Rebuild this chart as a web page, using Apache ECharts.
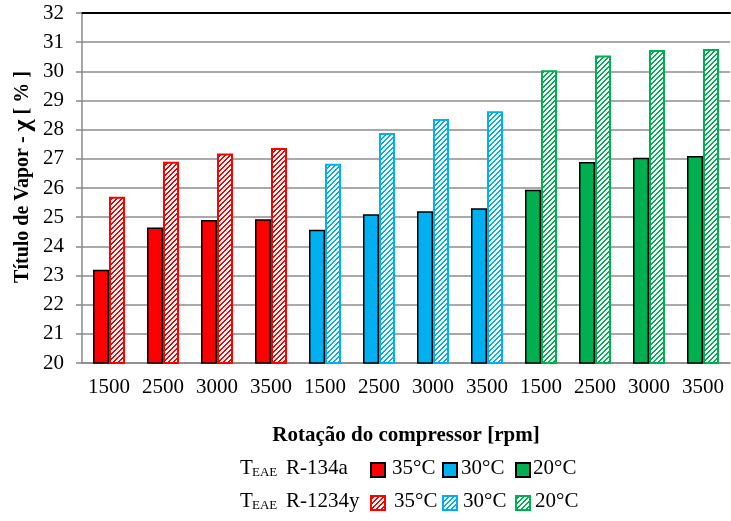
<!DOCTYPE html>
<html>
<head>
<meta charset="utf-8">
<script src="https://cdn.jsdelivr.net/npm/echarts@6/dist/echarts.min.js"></script>
<style>
html,body{margin:0;padding:0;background:#fff;}
#chart{width:731px;height:521px;}
</style>
</head>
<body>
<div id="chart"></div>
<script>
// ---- data ----
var categories = ['1500','2500','3000','3500','1500','2500','3000','3500','1500','2500','3000','3500'];
var r134a   = [23.2, 24.65, 24.9, 24.93, 24.57, 25.1, 25.2, 25.31, 25.94, 26.89, 27.04, 27.1];
var r1234yf = [25.7, 26.9, 27.18, 27.37, 26.83, 27.89, 28.37, 28.63, 30.04, 30.54, 30.73, 30.77];
var tempGroups = ['35°C','30°C','20°C'];
var groupColors = ['#FF0000','#00B0F0','#00B050'];
var groupOfCategory = [0,0,0,0,1,1,1,1,2,2,2,2];
var yTicks = {min: 20, max: 32, interval: 1};
var xTitle = 'Rotação do compressor [rpm]';
var yTitleParts = ['Título de Vapor - ', 'χ', ' [ % ]'];

var FONT = '"Liberation Serif", "Times New Roman", serif';

function hatch(color){
  var s = 5, c = document.createElement('canvas');
  c.width = s; c.height = s;
  var ctx = c.getContext('2d');
  ctx.fillStyle = '#fff'; ctx.fillRect(0,0,s,s);
  ctx.fillStyle = color;
  for (var i = 0; i < s; i++) {
    for (var w = 0; w < 2; w++) {
      ctx.fillRect((s - 1 - i + w) % s, i, 1, 1);
    }
  }
  return {image: c, repeat: 'repeat'};
}

var solidData = r134a.map(function(v, i){
  return {value: v, itemStyle: {color: groupColors[groupOfCategory[i]], borderColor: '#000', borderWidth: 1.5}};
});
var hatchData = r1234yf.map(function(v, i){
  var col = groupColors[groupOfCategory[i]];
  return {value: v, itemStyle: {color: hatch(col), borderColor: col, borderWidth: 2}};
});

// legend + y title graphics
var legendX = [370, 442, 515];
var legendTextX = [392, 461, 533];
var rowY = [470, 503];
var graphics = [];
graphics.push({type:'text', x: 23, y: 177, rotation: Math.PI/2,
  style:{
    text: '{a|' + yTitleParts[0] + '}{b|' + yTitleParts[1] + '}{a|' + yTitleParts[2] + '}',
    align:'center', verticalAlign:'middle',
    rich: {
      a: {font:'bold 20px ' + FONT, fill:'#000', verticalAlign:'middle'},
      b: {font:'bold 26px ' + FONT, fill:'#000', verticalAlign:'middle'}
    }
  }});
['R-134a','R-1234y'].forEach(function(name, r){
  graphics.push({type:'text', left: 240, top: rowY[r]-12, style:{text:'T', font:'21px ' + FONT, fill:'#000'}});
  graphics.push({type:'text', left: 252, top: rowY[r]-4, style:{text:'EAE', font:'13px ' + FONT, fill:'#000'}});
  graphics.push({type:'text', left: 286, top: rowY[r]-12, style:{text:name, font:'21px ' + FONT, fill:'#000'}});
  tempGroups.forEach(function(t, g){
    var col = groupColors[g];
    graphics.push({type:'rect', shape:{x: legendX[g]+1, y: rowY[r]-7, width: 14, height: 14},
      style: r === 0 ? {fill: col, stroke:'#000', lineWidth: 2} : {fill: hatch(col), stroke: col, lineWidth: 2}});
    graphics.push({type:'text', left: legendTextX[g] + (r===1?2:0), top: rowY[r]-12, style:{text:t, font:'21px ' + FONT, fill:'#000'}});
  });
});

var chart = echarts.init(document.getElementById('chart'), null, {renderer:'canvas'});
chart.setOption({
  animation: false,
  backgroundColor: '#fff',
  grid: {left: 82, right: 1, top: 13, bottom: 158},
  xAxis: [{
    type: 'category',
    data: categories,
    axisLine: {lineStyle: {color: '#888', width: 1.5}},
    axisTick: {show: false},
    axisLabel: {color: '#000', fontSize: 21, fontFamily: FONT, margin: 14, interval: 0},
    name: xTitle,
    nameLocation: 'middle',
    nameGap: 62,
    nameTextStyle: {color: '#000', fontSize: 21, fontWeight: 'bold', fontFamily: FONT}
  },{
    type: 'category',
    position: 'top',
    data: categories,
    axisLine: {lineStyle: {color: '#000', width: 2}},
    axisTick: {show: false},
    axisLabel: {show: false}
  }],
  yAxis: {
    type: 'value',
    min: yTicks.min, max: yTicks.max, interval: yTicks.interval,
    axisLine: {show: true, lineStyle: {color: '#888', width: 1.5}},
    axisTick: {show: true, length: 6, lineStyle: {color: '#888', width: 1.5}},
    axisLabel: {color: '#000', fontSize: 21, fontFamily: FONT, margin: 18},
    splitLine: {lineStyle: {color: '#8c8c8c', width: 1.5}}
  },
  series: [
    {type: 'bar', name: 'R-134a', data: solidData, barWidth: 16, barGap: '0%', xAxisIndex: 0},
    {type: 'bar', name: 'R-1234yf', data: hatchData, barWidth: 16, barGap: '0%', xAxisIndex: 0}
  ],
  graphic: graphics
});
</script>
</body>
</html>
